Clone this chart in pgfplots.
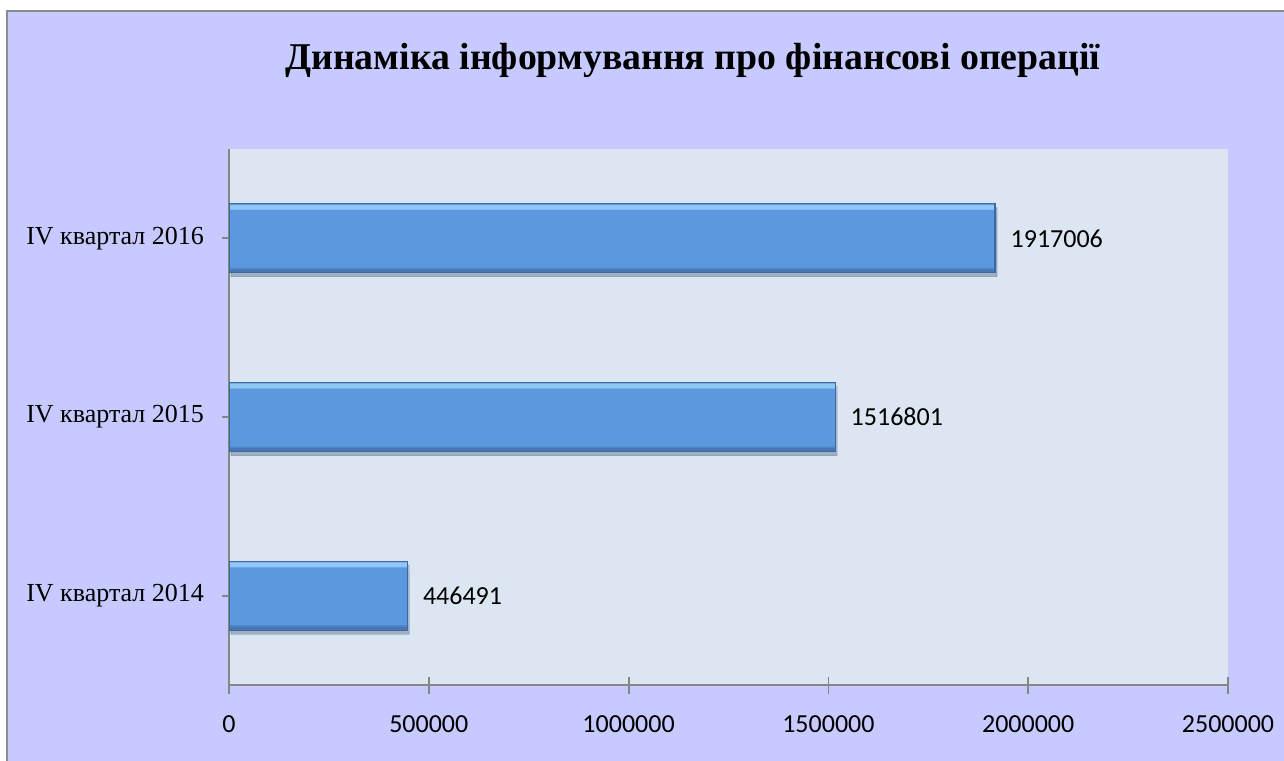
\documentclass[border=0pt]{standalone}
\usepackage{pgfplots}
\pgfplotsset{compat=1.18}
\usepackage{fontspec}
\setmainfont{Liberation Serif}
\newfontfamily\carlito{Carlito}
\definecolor{outerbg}{RGB}{198,202,255}
\definecolor{framegray}{RGB}{140,140,140}
\definecolor{plotbg}{RGB}{220,230,242}
\definecolor{axisgray}{RGB}{134,134,134}
\definecolor{barblue}{RGB}{92,152,222}
\definecolor{baredge}{RGB}{62,104,160}
\definecolor{barlow}{RGB}{72,118,180}
\definecolor{barhigh}{RGB}{145,200,245}
\pgfdeclareverticalshading{barbevel}{100bp}{
  color(0bp)=(barlow); color(25bp)=(barlow); color(27.5bp)=(barlow);
  color(29.5bp)=(barblue); color(70.5bp)=(barblue);
  color(71.5bp)=(barhigh); color(74bp)=(barhigh); color(75bp)=(barblue); color(100bp)=(barblue)}
\pgfplotsset{barst/.style={xbar, bar shift=0pt, shading=barbevel, draw=baredge, line width=0.6pt,
  preaction={fill=black, opacity=0.18, transform canvas={xshift=1pt, yshift=-2pt}}}}
\begin{document}
\begin{tikzpicture}
\useasboundingbox (0,0) rectangle (642pt,-380pt);
\fill[outerbg] (3.5pt,-5.5pt) rectangle (660pt,-400pt);
\draw[framegray, line width=1.3pt] (3.5pt,-400pt) -- (3.5pt,-5.5pt) -- (660pt,-5.5pt);
\begin{axis}[
  at={(114.5pt,-342.5pt)}, anchor=south west,
  scale only axis, width=499.5pt, height=268pt,
  xmin=0, xmax=2500000, ymin=-0.5, ymax=2.5,
  axis x line*=bottom, axis y line*=left,
  axis line style={axisgray, line width=1pt},
  axis background/.style={fill=plotbg},
  xtick={0,500000,1000000,1500000,2000000,2500000},
  xticklabels={0,500000,1000000,1500000,2000000,2500000},
  scaled x ticks=false,
  ytick={0,1,2},
  yticklabels={IV квартал 2014,IV квартал 2015,IV квартал 2016},
  xtick align=center, ytick align=outside,
  major tick length=8.5pt,
  tick style={axisgray, line width=0.9pt},
  ytick style={/pgfplots/major tick length=3.5pt},
  x tick label style={font=\carlito\fontsize{13}{15}\selectfont, yshift=-7.5pt},
  y tick label style={font=\fontsize{13}{15}\selectfont, xshift=-0.5pt},
  title={\textbf{Динаміка інформування про фінансові операції}},
  title style={font=\fontsize{18.9}{22}\selectfont, at={(0.4645,1.142)}, anchor=center},
  bar width=34.5pt,
  nodes near coords,
  nodes near coords style={font=\carlito\fontsize{13}{15}\selectfont, anchor=west, inner sep=0pt, xshift=7.5pt, black},
  point meta=explicit symbolic,
]
\addplot[barst] coordinates {(446491,0) [446491]};
\addplot[barst] coordinates {(1516801,1) [1516801]};
\addplot[barst] coordinates {(1917006,2) [1917006]};
\end{axis}
\end{tikzpicture}
\end{document}
